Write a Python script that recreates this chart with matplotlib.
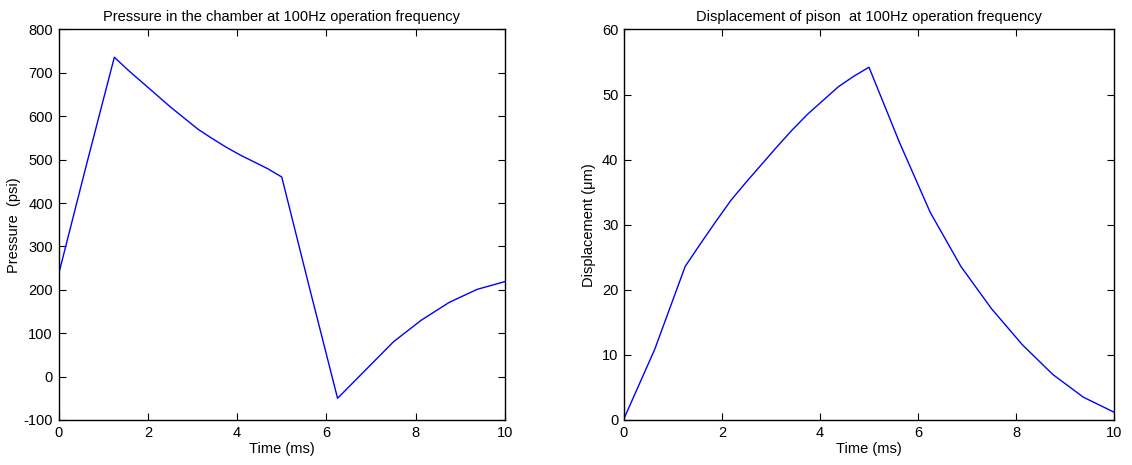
import matplotlib
matplotlib.use("Agg")
import matplotlib.pyplot as plt

# time samples (ms)
t_p = [0, 0.625, 1.25, 1.5625, 1.875, 2.1875, 2.5, 2.8125, 3.125, 3.4375, 3.75, 4.0625, 4.375, 4.6875, 5.0,
       5.625, 6.25, 6.875, 7.5, 8.125, 8.75, 9.375, 10.0]
pressure = [235, 488, 736, 706, 678, 650, 622, 596, 570, 549, 529, 511, 495, 479, 460,
            203, -50, 15, 80, 130, 171, 201, 219]

t_d = [0, 0.625, 1.25, 1.5625, 1.875, 2.1875, 2.5, 2.8125, 3.125, 3.4375, 3.75, 4.0625, 4.375, 4.6875, 5.0,
       5.625, 6.25, 6.875, 7.5, 8.125, 8.75, 9.375, 10.0]
displacement = [0.2, 10.8, 23.6, 27.1, 30.5, 33.8, 36.6, 39.3, 42.0, 44.6, 47.0, 49.1, 51.2, 52.8, 54.2,
                42.6, 31.9, 23.6, 17.1, 11.6, 7.0, 3.5, 1.2]

plt.rcParams['font.family'] = ['Liberation Sans', 'DejaVu Sans']
plt.rcParams['font.size'] = 10.5
plt.rcParams['axes.unicode_minus'] = False

fig = plt.figure(figsize=(11.32, 4.65), dpi=100)
ax1 = fig.add_axes([0.0517, 0.0968, 0.3944, 0.8398])
ax2 = fig.add_axes([0.5512, 0.0968, 0.4329, 0.8398])


def style(ax):
    ax.tick_params(direction='in', top=True, right=True, length=5, width=0.8, pad=4)
    for s in ax.spines.values():
        s.set_linewidth(1.0)
    ax.set_xlim(0, 10)
    ax.set_xticks([0, 2, 4, 6, 8, 10])
    ax.set_xlabel('Time (ms)', labelpad=2)


ax1.plot(t_p, pressure, color='#0000ff', lw=1.0)
style(ax1)
ax1.set_ylim(-100, 800)
ax1.set_yticks(range(-100, 801, 100))
ax1.set_ylabel('Pressure  (psi)', labelpad=2)
ax1.set_title('Pressure in the chamber at 100Hz operation frequency', fontsize=10.5, pad=6)

ax2.plot(t_d, displacement, color='#0000ff', lw=1.0)
style(ax2)
ax2.set_ylim(0, 60)
ax2.set_yticks(range(0, 61, 10))
ax2.set_ylabel('Displacement (\u03bcm)', labelpad=4)
ax2.set_title('Displacement of pison  at 100Hz operation frequency', fontsize=10.5, pad=6)

fig.savefig('out.png', dpi=100)
